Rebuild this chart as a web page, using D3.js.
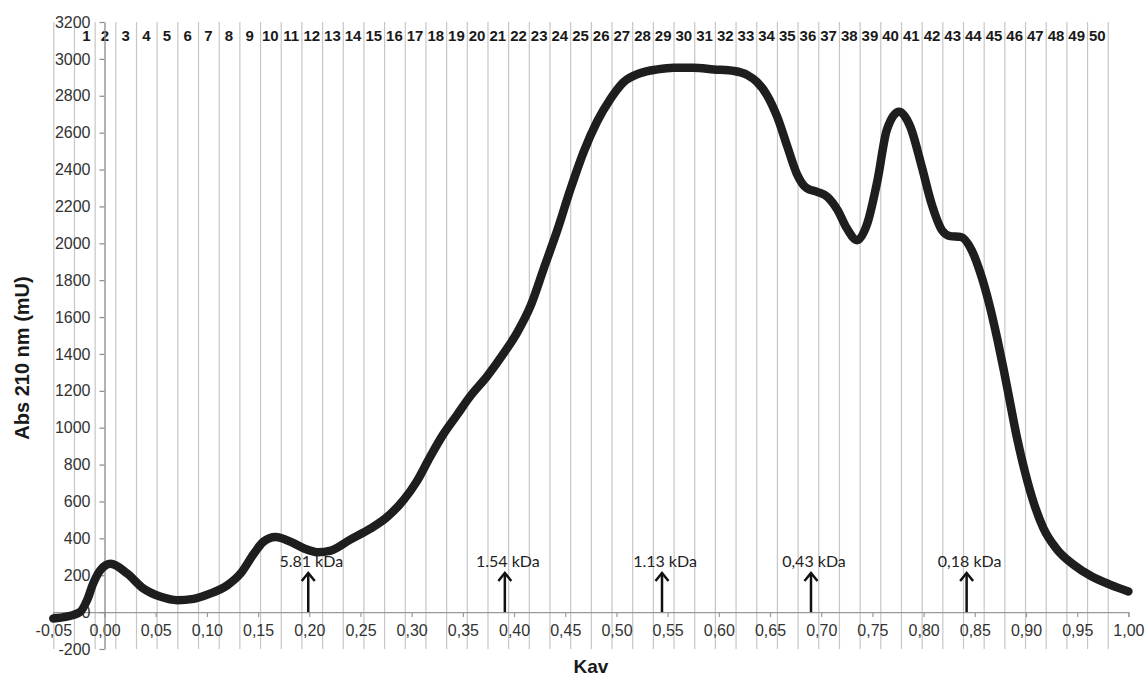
<!DOCTYPE html>
<html>
<head>
<meta charset="utf-8">
<script src="https://cdn.jsdelivr.net/npm/d3@7"></script>
<style>
  html, body { margin: 0; padding: 0; background: #fff; }
  svg { display: block; }
</style>
</head>
<body>
<svg id="chart" width="1145" height="678"></svg>
<script>
// Elution profile: Kav vs absorbance at 210 nm
const kav = [
  -0.050, -0.037, -0.024, -0.017, -0.011, -0.004, 0.006, 0.022, 0.038, 0.055,
  0.071, 0.087, 0.103, 0.120, 0.133, 0.146, 0.155, 0.167, 0.182, 0.195,
  0.208, 0.221, 0.240, 0.260, 0.276, 0.292, 0.305, 0.318, 0.331, 0.344,
  0.357, 0.374, 0.390, 0.403, 0.416, 0.429, 0.442, 0.455, 0.468, 0.481,
  0.494, 0.507, 0.523, 0.540, 0.556, 0.575, 0.595, 0.615, 0.628, 0.637,
  0.647, 0.657, 0.667, 0.676, 0.686, 0.696, 0.706, 0.716, 0.725, 0.735,
  0.745, 0.755, 0.764, 0.776, 0.787, 0.798, 0.808, 0.818, 0.826, 0.836,
  0.847, 0.855, 0.864, 0.872, 0.878, 0.885, 0.891, 0.899, 0.908, 0.917,
  0.930, 0.947, 0.963, 0.982, 1.000
];
const absorbance = [
  -35, -25, 0, 65, 156, 228, 262, 210, 128, 83,
  65, 72, 100, 146, 210, 318, 381, 408, 381, 345,
  325, 334, 393, 454, 516, 607, 709, 842, 965, 1067,
  1169, 1281, 1404, 1516, 1659, 1863, 2067, 2292, 2496, 2659,
  2782, 2874, 2922, 2943, 2952, 2952, 2943, 2934, 2912, 2876,
  2804, 2686, 2523, 2379, 2298, 2279, 2252, 2180, 2081, 2017,
  2108, 2343, 2614, 2713, 2632, 2420, 2210, 2070, 2039, 2035,
  1962, 1846, 1672, 1480, 1320, 1120, 950, 760, 585, 455,
  342, 255, 197, 149, 112
];

// Fraction numbers shown along the top
const fractionLabels = [
  "1","2","3","4","5","6","7","8","9","10",
  "11","12","13","14","15","16","17","18","19","20",
  "21","22","23","24","25","26","27","28","29","30",
  "31","32","33","34","35","36","37","38","39","40",
  "41","42","43","44","45","46","47","48","49","50"
];

// Axis ticks
const xTickValues = [-0.05, 0, 0.05, 0.10, 0.15, 0.20, 0.25, 0.30, 0.35, 0.40, 0.45,
  0.50, 0.55, 0.60, 0.65, 0.70, 0.75, 0.80, 0.85, 0.90, 0.95, 1.00];
const yTickValues = [-200, 0, 200, 400, 600, 800, 1000, 1200, 1400, 1600, 1800,
  2000, 2200, 2400, 2600, 2800, 3000, 3200];

// Molecular-weight standards
const standardKav = [0.199, 0.391, 0.5445, 0.690, 0.842];
const standardLabels = ["5.81 kDa", "1.54 kDa", "1.13 kDa", "0,43 kDa", "0,18 kDa"];

const svg = d3.select("#chart");
const plotLeft = 53.3, plotRight = 1128.4, plotTop = 22, plotBottom = 649;

const x = d3.scaleLinear().domain([-0.05, 1.0]).range([plotLeft, plotRight]);
const y = d3.scaleLinear().domain([-200, 3200]).range([plotBottom, plotTop]);

// One slot before fraction 1 and one after fraction 50
const slots = ["pre"].concat(fractionLabels, ["post"]);
const band = d3.scaleBand().domain(slots).range([plotLeft, plotRight]).padding(0);

// Fraction boundary lines
svg.append("g")
  .selectAll("line")
  .data(slots)
  .join("line")
  .attr("x1", d => band(d) + 0.5)
  .attr("x2", d => band(d) + 0.5)
  .attr("y1", plotTop)
  .attr("y2", plotBottom)
  .attr("stroke", "#c6c6c6")
  .attr("stroke-width", 1.2);

// Fraction numbers
svg.append("g")
  .selectAll("text")
  .data(fractionLabels)
  .join("text")
  .attr("x", d => band(d) + band.bandwidth() / 2 + (d === "1" ? 2 : 0))
  .attr("y", 40.5)
  .attr("text-anchor", "middle")
  .attr("font-family", "'Liberation Sans Narrow', 'Liberation Sans', Arial, sans-serif")
  .attr("font-weight", "bold")
  .attr("font-size", 15)
  .attr("fill", "#1a1a1a")
  .text(d => d);

// X axis at zero
const xAxis = d3.axisBottom(x)
  .tickValues(xTickValues)
  .tickSize(5)
  .tickPadding(8)
  .tickFormat(d => d3.format(".2f")(d).replace(".", ",").replace("−", "-"));
const gx = svg.append("g")
  .attr("transform", `translate(0,${y(0)})`)
  .call(xAxis);
gx.select(".domain").attr("stroke", "#9a9a9a").attr("stroke-width", 1.3);
gx.selectAll(".tick line").attr("stroke", "#9a9a9a").attr("stroke-width", 1.2);
gx.selectAll(".tick text")
  .attr("font-family", "'Liberation Sans', Arial, sans-serif")
  .attr("font-size", 16)
  .attr("fill", "#333");

// Y axis
const yAxis = d3.axisLeft(y)
  .tickValues(yTickValues)
  .tickSizeInner(5)
  .tickSizeOuter(0)
  .tickPadding(9)
  .tickFormat(d => String(d));
const gy = svg.append("g")
  .attr("transform", `translate(${x(0)},0)`)
  .call(yAxis);
gy.select(".domain").attr("stroke", "#8a8a8a").attr("stroke-width", 1.3);
gy.selectAll(".tick line").attr("stroke", "#8a8a8a").attr("stroke-width", 1.2);
gy.selectAll(".tick text")
  .attr("font-family", "'Liberation Sans', Arial, sans-serif")
  .attr("font-size", 16)
  .attr("fill", "#333");

// Absorbance trace
const line = d3.line()
  .x((d, i) => x(kav[i]))
  .y(d => y(d))
  .curve(d3.curveMonotoneX);
svg.append("path")
  .datum(absorbance)
  .attr("d", line)
  .attr("fill", "none")
  .attr("stroke", "#1e1e1e")
  .attr("stroke-width", 8.5)
  .attr("stroke-linejoin", "round")
  .attr("stroke-linecap", "round");

// Standard markers: arrows with labels
const std = svg.append("g")
  .selectAll("g")
  .data(standardKav)
  .join("g")
  .attr("transform", d => `translate(${x(d)},0)`);
std.append("line")
  .attr("x1", 0).attr("x2", 0)
  .attr("y1", y(0)).attr("y2", 573)
  .attr("stroke", "#111").attr("stroke-width", 2.5);
std.append("path")
  .attr("d", "M-6.5,581 L0,573 L6.5,581")
  .attr("fill", "none")
  .attr("stroke", "#111")
  .attr("stroke-width", 2.5)
  .attr("stroke-linejoin", "miter");
std.append("text")
  .attr("x", 3)
  .attr("y", 567)
  .attr("text-anchor", "middle")
  .attr("font-family", "Lato, 'Open Sans', sans-serif")
  .attr("font-size", 16)
  .attr("fill", "#222")
  .text((d, i) => standardLabels[i]);

// Axis titles
svg.append("text")
  .attr("x", (plotLeft + plotRight) / 2)
  .attr("y", 673)
  .attr("text-anchor", "middle")
  .attr("font-family", "'Liberation Sans', Arial, sans-serif")
  .attr("font-weight", "bold")
  .attr("font-size", 19)
  .attr("fill", "#1a1a1a")
  .text("Kav");

svg.append("text")
  .attr("transform", "translate(29,358) rotate(-90)")
  .attr("text-anchor", "middle")
  .attr("font-family", "'Liberation Sans', Arial, sans-serif")
  .attr("font-weight", "bold")
  .attr("font-size", 20)
  .attr("fill", "#1a1a1a")
  .text("Abs 210 nm (mU)");
</script>
</body>
</html>
